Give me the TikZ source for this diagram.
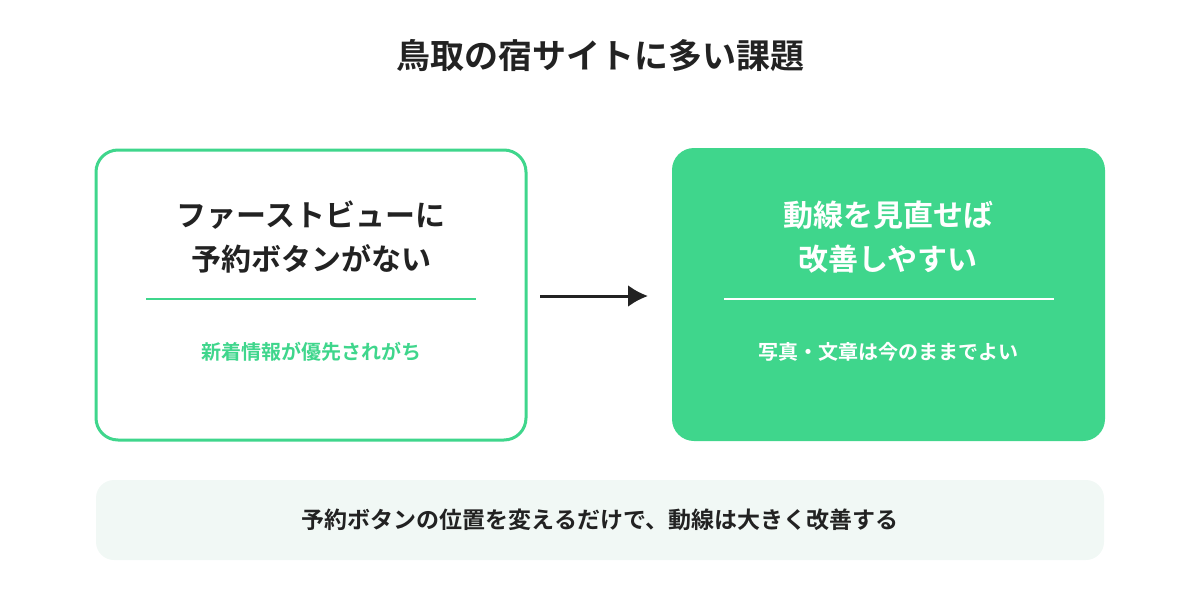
\documentclass[tikz,border=0pt]{standalone}
\usepackage{fontspec}
\setmainfont{Noto Sans CJK JP}[BoldFont={* Bold}]
\usepackage{xcolor}
\usetikzlibrary{positioning,arrows.meta}
\definecolor{mint}{HTML}{3FD68C}
\definecolor{pale}{HTML}{F1F8F5}
\definecolor{ink}{HTML}{222222}

\begin{document}
\begin{tikzpicture}[x=0.5pt, y=-0.5pt, every node/.style={font=\bfseries, align=center, text=ink}]
\useasboundingbox (0,0) rectangle (1200,600);
\node[font=\bfseries\fontsize{17}{20}\selectfont] (title) at (600,56) {鳥取の宿サイトに多い課題};
% left and right boxes
\draw[mint, line width=1.5pt, rounded corners=11pt, fill=white] (96,150) rectangle (526,440);
\fill[mint, rounded corners=11pt] (672,148) rectangle (1105,441);
\coordinate (lbox) at (526,296);
\coordinate (rbox) at (672,296);
\node[font=\bfseries\fontsize{15}{22}\selectfont] (prob) at (311,237) {ファーストビューに\\予約ボタンがない};
\node[font=\bfseries\fontsize{15}{22}\selectfont, text=white] (fix) at (888,237) {動線を見直せば\\改善しやすい};
\draw[mint, line width=1.2pt] (146,299) -- (476,299);
\draw[white, line width=1.2pt] (724,299) -- (1054,299);
\node[font=\bfseries\fontsize{10}{12}\selectfont, text=mint] (cause) at (311,352) {新着情報が優先されがち};
\node[font=\bfseries\fontsize{10}{12}\selectfont, text=white] (keep) at (888,352) {写真・文章は今のままでよい};
\draw[ink, line width=1.5pt, -{Latex[length=10pt,width=11pt]}, shorten <=7pt, shorten >=12pt] (lbox) -- (rbox);
% bottom note
\fill[pale, rounded corners=9pt] (96,480) rectangle (1104,560);
\node[font=\bfseries\fontsize{11.5}{14}\selectfont] (note) at (600,520) {予約ボタンの位置を変えるだけで、動線は大きく改善する};
\end{tikzpicture}
\end{document}
